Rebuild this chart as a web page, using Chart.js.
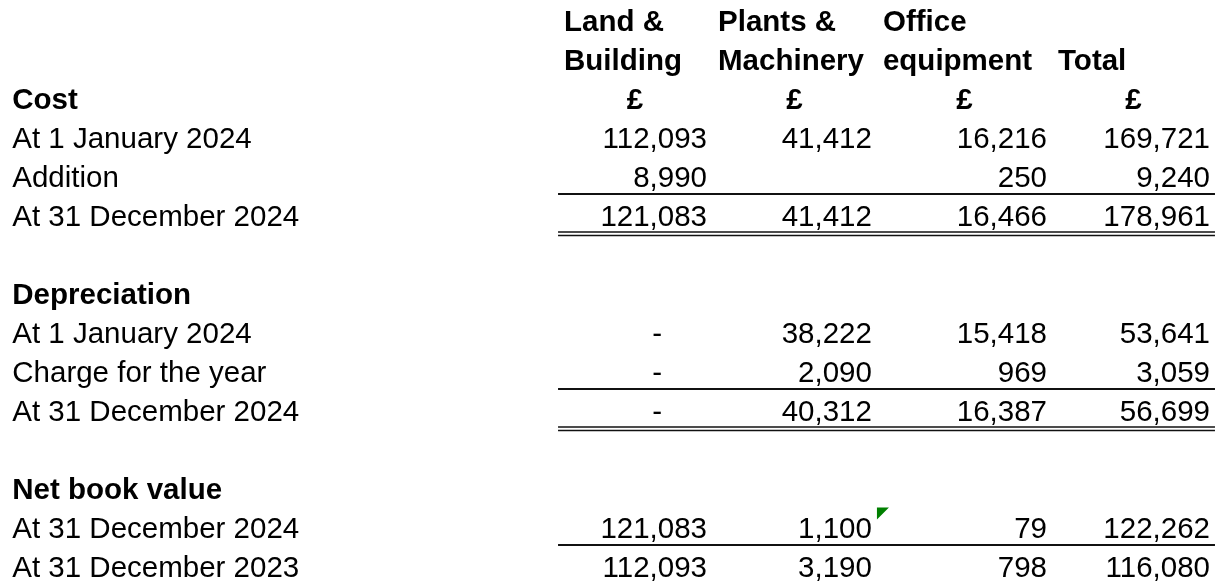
<!DOCTYPE html>
<html>
<head>
  <meta charset="utf-8">
  <title>Tangible fixed assets</title>
  <script src="https://cdn.jsdelivr.net/npm/chart.js"></script>
  <style>
    html, body { margin: 0; padding: 0; background: #fff; }
    #wrap { width: 1227px; height: 582px; position: relative; }
  </style>
</head>
<body>
  <div id="wrap"><canvas id="schedule"></canvas></div>

  <script>
    // rows of the schedule, top to bottom
    const rowLabels = ['', '', 'Cost', 'At 1 January 2024', 'Addition', 'At 31 December 2024', '',
      'Depreciation', 'At 1 January 2024', 'Charge for the year', 'At 31 December 2024', '',
      'Net book value', 'At 31 December 2024', 'At 31 December 2023'];
    const sectionHeads = ['Cost', 'Depreciation', 'Net book value'];

    // column headings
    const headTop = ['Land &', 'Plants &', 'Office', ''];
    const headBottom = ['Building', 'Machinery', 'equipment', 'Total'];
    const currency = ['£', '£', '£', '£'];

    // values per column, aligned with rowLabels (null = empty cell, 0 = dash)
    const landBuilding    = [null, null, null, 112093, 8990, 121083, null, null, 0, 0, 0, null, null, 121083, 112093];
    const plantsMachinery = [null, null, null, 41412, null, 41412, null, null, 38222, 2090, 40312, null, null, 1100, 3190];
    const officeEquipment = [null, null, null, 16216, 250, 16466, null, null, 15418, 969, 16387, null, null, 79, 798];
    const totals          = [null, null, null, 169721, 9240, 178961, null, null, 53641, 3059, 56699, null, null, 122262, 116080];

    // underline rows
    const singleRules = [4, 9, 13];
    const doubleRules = [5, 10];
    const flaggedCell = { row: 13, col: 2 };

    // layout (x in percent of sheet width)
    const labelX = 1;
    const colEdges = [45.48, 58.03, 71.47, 85.74, 99.02];
    const fontPx = 29.5;
    const cellPad = 5;
    const fontFamily = '"Liberation Sans", Arial, sans-serif';

    const columns = [landBuilding, plantsMachinery, officeEquipment, totals];

    function fmt(v) {
      return v === 0 ? '-' : v.toLocaleString('en-GB');
    }

    const datasets = [];
    datasets.push({
      label: 'labels', align: 'left', shift: 0,
      data: rowLabels.map((t, i) => ({ x: labelX, y: i, text: t, bold: sectionHeads.includes(t) }))
                     .filter(d => d.text)
    });
    datasets.push({
      label: 'headings', align: 'left', shift: 6, bold: true,
      data: headTop.map((t, c) => ({ x: colEdges[c], y: 0, text: t }))
        .concat(headBottom.map((t, c) => ({ x: colEdges[c], y: 1, text: t })))
        .filter(d => d.text)
    });
    datasets.push({
      label: 'currency', align: 'center', shift: 0, bold: true,
      data: currency.map((t, c) => ({ x: (colEdges[c] + colEdges[c + 1]) / 2, y: 2, text: t }))
    });
    columns.forEach((col, c) => {
      datasets.push({
        label: headBottom[c], align: 'right', shift: -cellPad,
        data: col.map((v, i) => v === null ? null : ({ x: colEdges[c + 1], y: i, text: fmt(v), dash: v === 0 }))
                 .filter(d => d)
      });
    });
    datasets.forEach(ds => { ds.pointRadius = 0; ds.pointHoverRadius = 0; ds.showLine = false; });

    const tablePlugin = {
      id: 'tableText',
      afterDatasetsDraw(chart) {
        const ctx = chart.ctx;
        const xs = chart.scales.x, ys = chart.scales.y;
        ctx.save();

        // rules
        const left = xs.getPixelForValue(colEdges[0]);
        const right = xs.getPixelForValue(colEdges[colEdges.length - 1]);
        ctx.strokeStyle = '#111';
        singleRules.forEach(r => {
          const y = Math.round(ys.getPixelForValue(r + 0.47));
          ctx.lineWidth = 2;
          ctx.beginPath(); ctx.moveTo(left, y); ctx.lineTo(right, y); ctx.stroke();
        });
        doubleRules.forEach(r => {
          const y = Math.round(ys.getPixelForValue(r + 0.44));
          ctx.lineWidth = 1.6;
          [y, y + 3.5].forEach(yy => {
            ctx.beginPath(); ctx.moveTo(left, yy); ctx.lineTo(right, yy); ctx.stroke();
          });
        });

        // text
        ctx.fillStyle = '#000';
        ctx.textBaseline = 'alphabetic';
        chart.data.datasets.forEach((ds, di) => {
          const meta = chart.getDatasetMeta(di);
          meta.data.forEach((pt, i) => {
            const d = ds.data[i];
            ctx.font = ((ds.bold || d.bold) ? 'bold ' : '') + fontPx + 'px ' + fontFamily;
            ctx.textAlign = ds.align;
            const dx = d.dash ? -50 : ds.shift;
            ctx.fillText(d.text, pt.x + dx, pt.y + 10.5);
          });
        });

        // green error marker in the corner of a cell
        const cx = xs.getPixelForValue(colEdges[flaggedCell.col]);
        const cy = ys.getPixelForValue(flaggedCell.row - 0.5);
        ctx.fillStyle = '#008000';
        ctx.beginPath();
        ctx.moveTo(cx, cy); ctx.lineTo(cx + 12, cy); ctx.lineTo(cx, cy + 12); ctx.closePath();
        ctx.fill();
        ctx.restore();
      }
    };

    new Chart(document.getElementById('schedule'), {
      type: 'scatter',
      data: { datasets },
      options: {
        responsive: true,
        maintainAspectRatio: false,
        animation: false,
        events: [],
        layout: { padding: 0 },
        plugins: { legend: { display: false }, tooltip: { enabled: false } },
        scales: {
          x: { type: 'linear', min: 0, max: 100, display: false },
          y: { type: 'linear', min: -0.513, max: 14.41, reverse: true, display: false }
        }
      },
      plugins: [tablePlugin]
    });
  </script>
</body>
</html>
